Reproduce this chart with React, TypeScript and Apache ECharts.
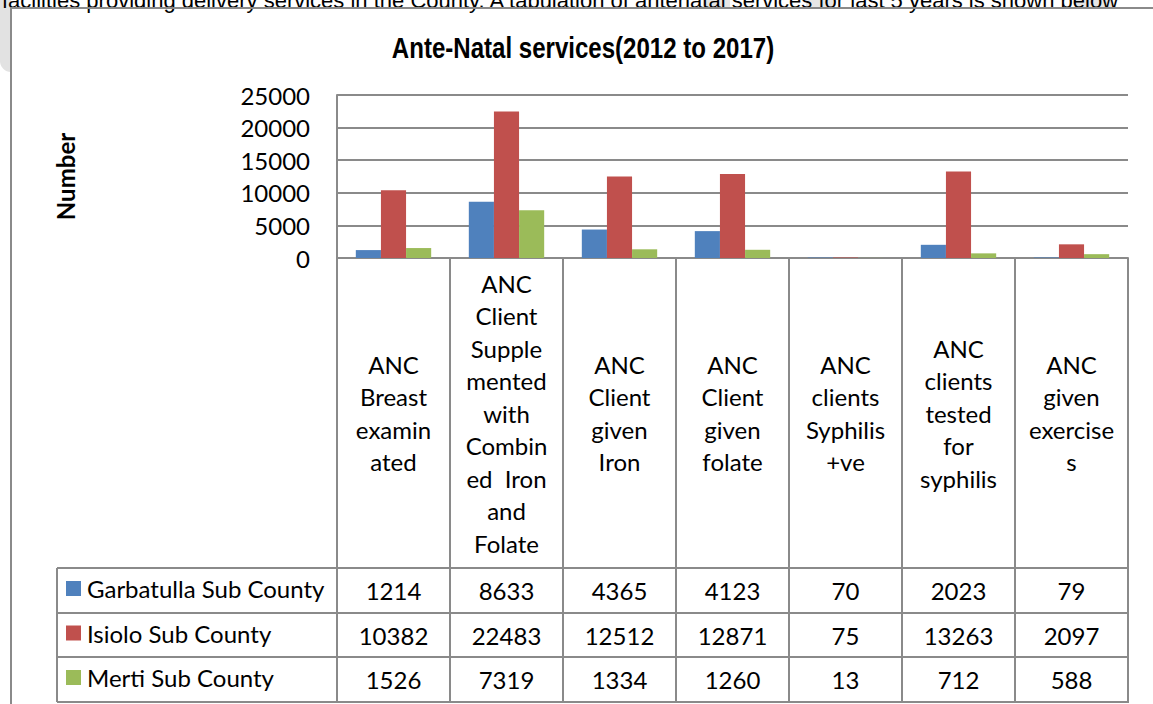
import React, { useEffect, useRef } from "react";
import * as echarts from "echarts";

const categories = [
  "ANC\nBreast\nexamin\nated",
  "ANC\nClient\nSupple\nmented\nwith\nCombin\ned  Iron\nand\nFolate",
  "ANC\nClient\ngiven\nIron",
  "ANC\nClient\ngiven\nfolate",
  "ANC\nclients\nSyphilis\n+ve",
  "ANC\nclients\ntested\nfor\nsyphilis",
  "ANC\ngiven\nexercise\ns",
];
const seriesNames = ["Garbatulla Sub County", "Isiolo Sub County", "Merti Sub County"];
const garbatulla = [1214, 8633, 4365, 4123, 70, 2023, 79];
const isiolo = [10382, 22483, 12512, 12871, 75, 13263, 2097];
const merti = [1526, 7319, 1334, 1260, 13, 712, 588];
const seriesValues = [garbatulla, isiolo, merti];
const colors = ["#4F81BD", "#C0504D", "#9BBB59"];
const titleText = "Ante-Natal services(2012 to 2017)";
const yAxisName = "Number";
const topText =
  "facilities providing delivery services in the County. A tabulation of antenatal services for last 5 years is shown below";

const FONT = "Lato, 'Noto Sans', sans-serif";
const GRAY = "#8a8a8a";

export default function App() {
  const ref = useRef<HTMLDivElement>(null);
  useEffect(() => {
    if (!ref.current) return;
    const chart = echarts.init(ref.current, null, { renderer: "svg" });
    const gridLeft = 337;
    const gridTop = 95;
    const gridRight = 1128;
    const gridBottom = 258;
    const rowTops = [568, 613, 657, 702];
    const rowCenters = [0, 1, 2].map((i) => (rowTops[i] + rowTops[i + 1]) / 2);

    const valueAxes = seriesValues.map((vals, i) => ({
      type: "category",
      gridIndex: 0,
      position: "bottom",
      offset: 0,
      data: vals.map((v) => String(v)),
      axisLine: { show: false },
      axisTick: { show: false },
      splitLine: { show: false },
      axisLabel: {
        interval: 0,
        margin: rowCenters[i] - gridBottom,
        verticalAlign: "middle",
        fontSize: 24,
        fontFamily: FONT,
        color: "#000",
      },
    }));

    const tableLines: any[] = rowTops.map((y) => ({
      type: "line",
      shape: { x1: 57, y1: y, x2: gridRight, y2: y },
      style: { stroke: GRAY, lineWidth: 2 },
    }));
    tableLines.push({
      type: "line",
      shape: { x1: 57, y1: rowTops[0], x2: 57, y2: rowTops[3] },
      style: { stroke: GRAY, lineWidth: 2 },
    });

    const legendItems: any[] = [];
    seriesNames.forEach((name, i) => {
      const cy = rowCenters[i] - 2;
      legendItems.push({
        type: "rect",
        shape: { x: 66, y: cy - 7.5, width: 15, height: 15 },
        style: { fill: colors[i] },
      });
      legendItems.push({
        type: "text",
        x: 87,
        y: cy,
        style: {
          text: name,
          fontFamily: FONT,
          fontSize: 24,
          fill: "#000",
          textVerticalAlign: "middle",
          verticalAlign: "middle",
        },
      });
    });

    const option: any = {
      animation: false,
      backgroundColor: "#fff",
      grid: {
        left: gridLeft,
        top: gridTop,
        width: gridRight - gridLeft,
        height: gridBottom - gridTop,
        containLabel: false,
      },
      xAxis: [
        {
          type: "category",
          data: categories,
          axisLine: { show: true, lineStyle: { color: GRAY, width: 2 } },
          axisTick: {
            show: true,
            interval: 0,
            length: 445,
            lineStyle: { color: GRAY, width: 2 },
          },
          axisLabel: {
            interval: 0,
            margin: (rowTops[0] - gridBottom) / 2,
            verticalAlign: "middle",
            lineHeight: 32.5,
            fontSize: 24,
            fontFamily: FONT,
            color: "#000",
          },
        },
        ...valueAxes,
      ],
      yAxis: {
        type: "value",
        min: 0,
        max: 25000,
        interval: 5000,
        name: yAxisName,
        nameLocation: "middle",
        nameRotate: 90,
        nameGap: 260,
        nameTextStyle: { fontFamily: FONT, fontWeight: "bold", fontSize: 24, color: "#000" },
        axisLine: { show: true, lineStyle: { color: GRAY, width: 2 } },
        axisTick: { show: false },
        axisLabel: {
          margin: 27,
          fontSize: 24,
          fontFamily: FONT,
          color: "#000",
          formatter: (v: number) => String(v),
        },
        splitLine: { show: true, lineStyle: { color: GRAY, width: 2 } },
      },
      series: seriesNames.map((name, i) => ({
        name,
        type: "bar",
        data: seriesValues[i],
        itemStyle: { color: colors[i] },
        barGap: "0%",
        barCategoryGap: "33.3%",
      })),
      graphic: [
        {
          type: "rect",
          shape: { x: 0, y: -10, width: 11, height: 82, r: [0, 0, 0, 11] },
          style: { fill: "#e2e2e2" },
          z: -1,
        },
        { type: "rect", shape: { x: 703, y: 0, width: 27, height: 8 }, style: { fill: "#e6e6e6" }, z: -1 },
        { type: "rect", shape: { x: 806, y: 0, width: 27, height: 8 }, style: { fill: "#e6e6e6" }, z: -1 },
        { type: "rect", shape: { x: 1075, y: 0, width: 38, height: 8 }, style: { fill: "#e6e6e6" }, z: -1 },
        {
          type: "text",
          x: 2,
          y: 11,
          style: {
            text: topText,
            fontFamily: "'Liberation Sans', Arial, sans-serif",
            fontSize: 22,
            fill: "#000",
            textVerticalAlign: "bottom",
            verticalAlign: "bottom",
          },
        },
        {
          type: "rect",
          shape: { x: 11, y: 8, width: 1300, height: 900 },
          style: { fill: "none", stroke: GRAY, lineWidth: 2 },
        },
        {
          type: "text",
          x: 583,
          y: 48,
          scaleX: 0.83,
          style: {
            text: titleText,
            fontFamily: "'Liberation Sans', Arial, sans-serif",
            fontWeight: "bold",
            fontSize: 29,
            fill: "#000",
            align: "center",
            textAlign: "center",
            verticalAlign: "middle",
            textVerticalAlign: "middle",
          },
        },
        ...tableLines,
        ...legendItems,
      ],
    };
    chart.setOption(option);
    return () => chart.dispose();
  }, []);
  return (
    <div
      ref={ref}
      style={{ position: "absolute", left: 0, top: 0, width: 1153, height: 704 }}
    />
  );
}
